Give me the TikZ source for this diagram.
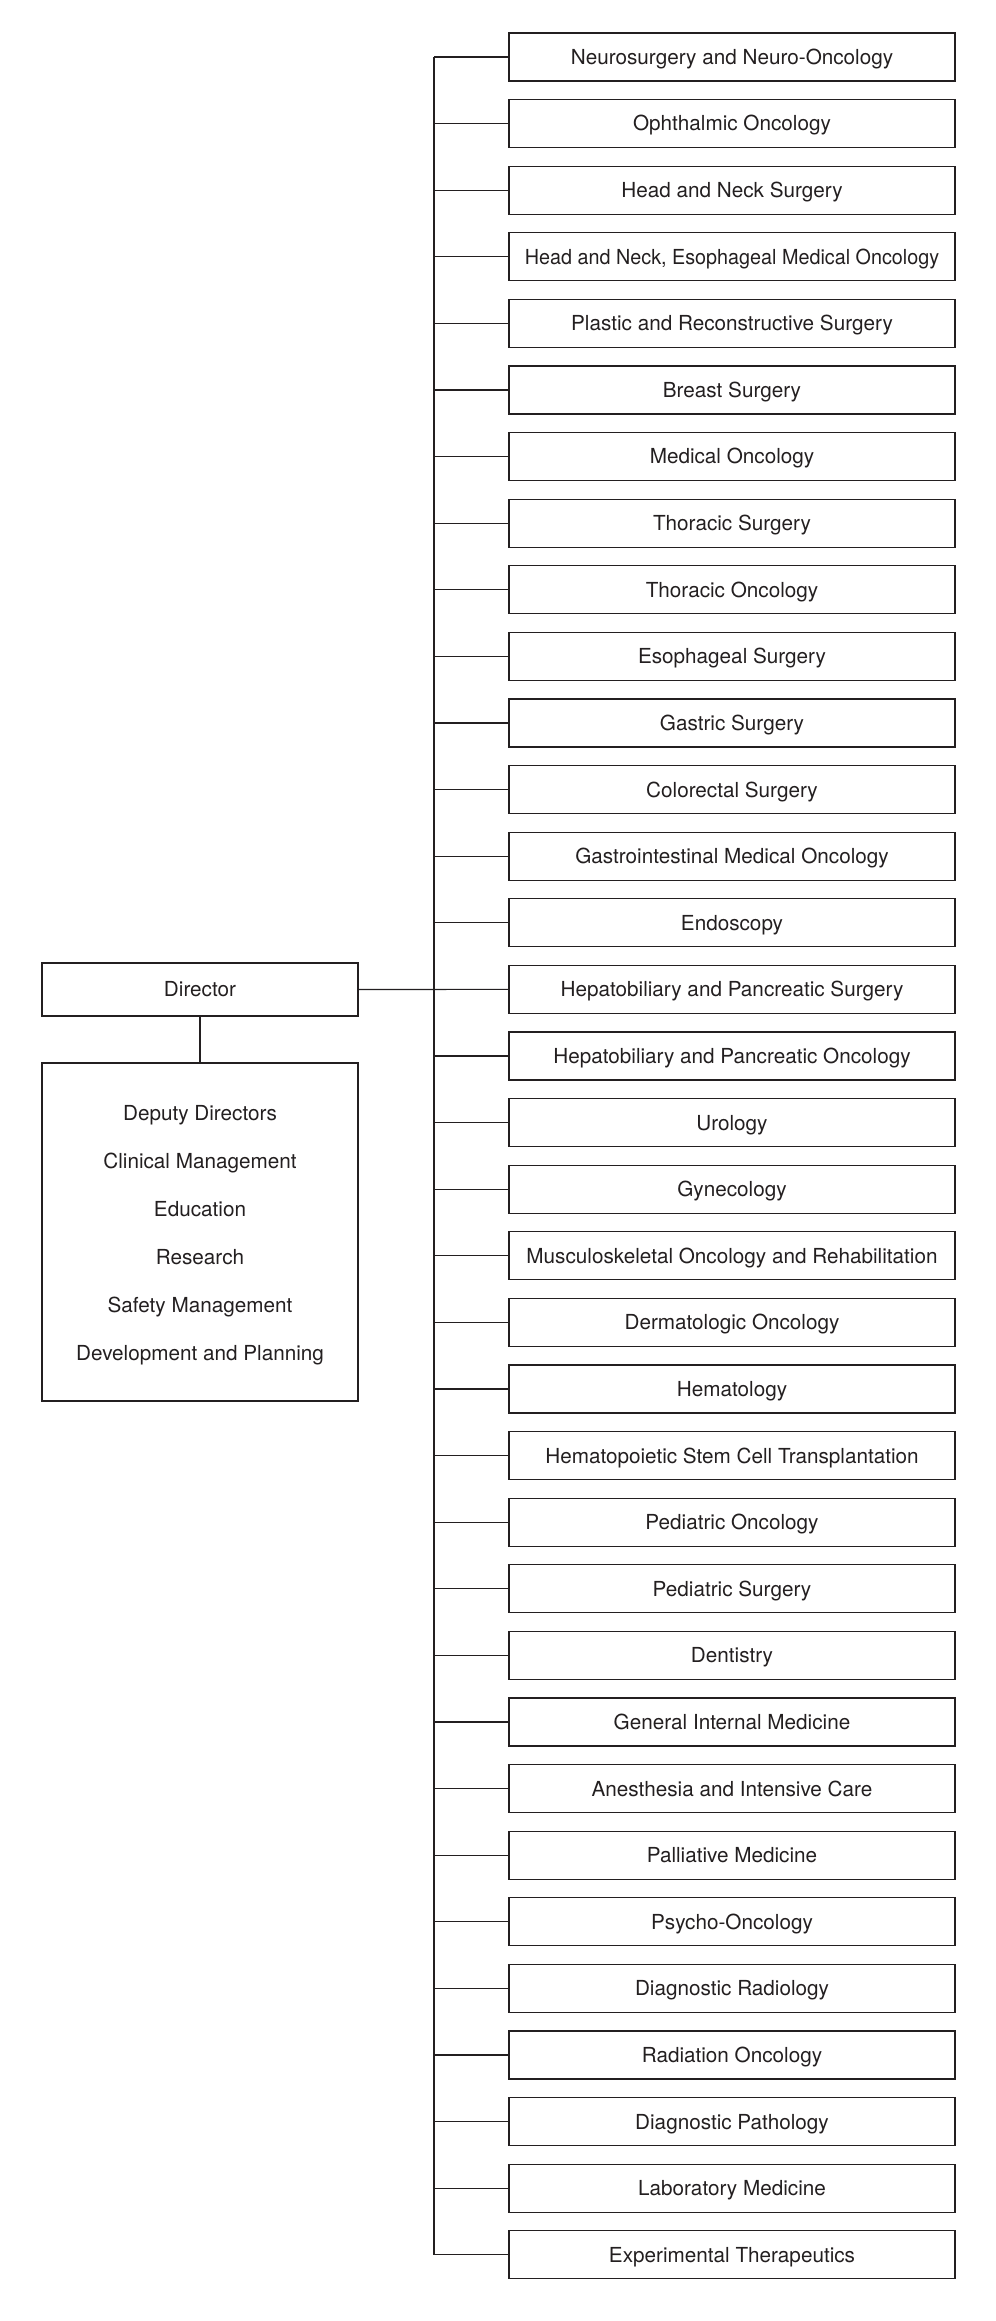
\documentclass[tikz,border=0pt]{standalone}
\usepackage{fontspec}
\setmainfont{TeX Gyre Heros}
\definecolor{ink}{HTML}{231F20}
\begin{document}
\begin{tikzpicture}[x=0.5pt,y=-0.5pt,
  box/.style={draw=ink, line width=0.55pt, text=ink, minimum width=223pt, minimum height=24pt, inner sep=0pt, text height=7.4pt, text depth=0pt, font=\fontsize{10.35}{12}\selectfont},
  lbox/.style={draw=ink, line width=0.55pt, text=ink, minimum width=158pt, inner sep=0pt, align=center},
  conn/.style={draw=ink, line width=0.55pt}]
\useasboundingbox (0,0) rectangle (995,2321);
\foreach \t [count=\i from 0] in {
  Neurosurgery and Neuro-Oncology,
  Ophthalmic Oncology,
  Head and Neck Surgery,
  {\scalebox{0.955}[1]{Head and Neck, Esophageal Medical Oncology}},
  Plastic and Reconstructive Surgery,
  Breast Surgery,
  Medical Oncology,
  Thoracic Surgery,
  Thoracic Oncology,
  Esophageal Surgery,
  Gastric Surgery,
  Colorectal Surgery,
  Gastrointestinal Medical Oncology,
  Endoscopy,
  Hepatobiliary and Pancreatic Surgery,
  Hepatobiliary and Pancreatic Oncology,
  Urology,
  Gynecology,
  Musculoskeletal Oncology and Rehabilitation,
  Dermatologic Oncology,
  Hematology,
  Hematopoietic Stem Cell Transplantation,
  Pediatric Oncology,
  Pediatric Surgery,
  Dentistry,
  General Internal Medicine,
  Anesthesia and Intensive Care,
  Palliative Medicine,
  Psycho-Oncology,
  Diagnostic Radiology,
  Radiation Oncology,
  Diagnostic Pathology,
  Laboratory Medicine,
  Experimental Therapeutics}
{
  \node[box] (d\i) at (732, {57+66.6*\i}) {\t};
  \coordinate (t\i) at (434, {57+66.6*\i});
  \draw[conn] (t\i) -- (d\i.west);
}
\draw[conn] (t0) -- (t33);
\node[lbox, minimum height=26.5pt, text height=7.4pt, text depth=0pt, font=\fontsize{10.35}{12}\selectfont] (dir) at (200, 989.5) {Director};
\node[lbox, minimum height=169pt, font=\fontsize{10.35}{24}\selectfont] (dep) at (200, 1232) {\rule{0pt}{10.6pt}Deputy Directors\\Clinical Management\\Education\\Research\\Safety Management\\Development and Planning};
\draw[conn] (dir.east) -- (d14.west);
\draw[conn] (dir.south) -- (dep.north);
\end{tikzpicture}
\end{document}
